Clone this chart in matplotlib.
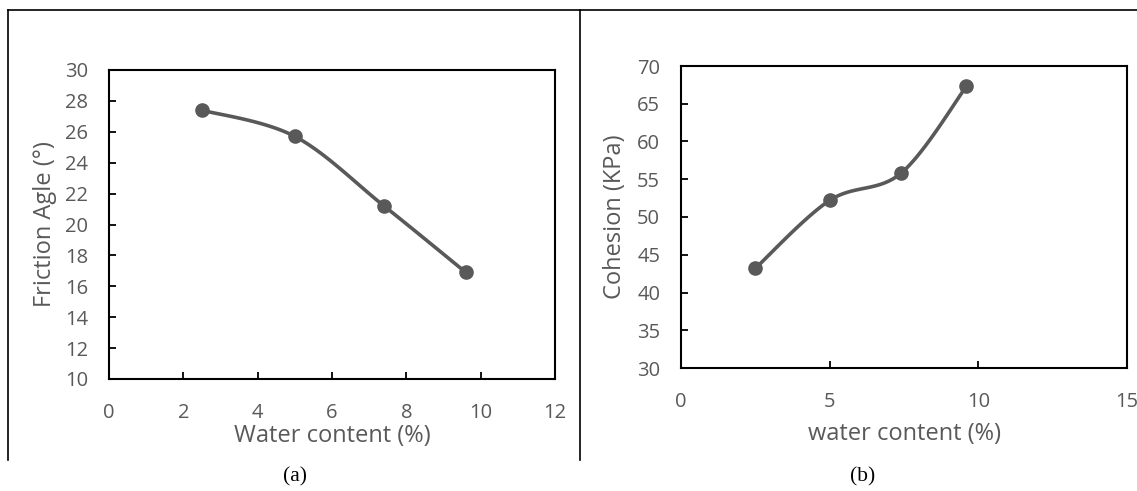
import numpy as np
import matplotlib
matplotlib.use("Agg")
import matplotlib.pyplot as plt
from matplotlib.lines import Line2D

# values
water = [2.5, 5.0, 7.4, 9.6]
friction = [27.4, 25.7, 21.2, 16.9]
cohesion = [43.2, 52.2, 55.8, 67.3]

grey = "#595959"
W, H = 1137, 491


def smooth(xs, ys, n=40):
    # Excel-like smoothed line: Catmull-Rom Bezier through the points
    p = np.column_stack([xs, ys]).astype(float)
    p = np.vstack([p[0], p, p[-1]])
    out = []
    for i in range(1, len(p) - 2):
        p0, p1, p2, p3 = p[i - 1], p[i], p[i + 1], p[i + 2]
        c1 = p1 + (p2 - p0) / 6
        c2 = p2 - (p3 - p1) / 6
        t = np.linspace(0, 1, n)[:, None]
        seg = ((1 - t) ** 3) * p1 + 3 * ((1 - t) ** 2) * t * c1 + 3 * (1 - t) * t ** 2 * c2 + t ** 3 * p2
        out.append(seg)
    out = np.vstack(out)
    return out[:, 0], out[:, 1]


plt.rcParams["font.family"] = ["Open Sans", "DejaVu Sans"]

fig = plt.figure(figsize=(W / 100, H / 100), dpi=100)


def box(l, t, r, b):
    return [l / W, (H - b) / H, (r - l) / W, (b - t) / H]


def panel(rect, y, xlim, xticks, ylim, yticks, xlabel, ylabel, xl_pos, yl_pos, xpad):
    ax = fig.add_axes(rect)
    sx, sy = smooth(water, y)
    ax.plot(sx, sy, color=grey, lw=2.6, solid_capstyle="round", clip_on=False)
    ax.plot(water, y, "o", color=grey, ms=9.5, clip_on=False)
    ax.set_xlim(*xlim)
    ax.set_ylim(*ylim)
    ax.set_xticks(xticks)
    ax.set_yticks(yticks)
    ax.tick_params(direction="in", length=5, width=1.3, color="black",
                   labelcolor=grey, labelsize=14.5)
    ax.tick_params(axis="x", pad=xpad)
    ax.tick_params(axis="y", pad=15)
    for s in ax.spines.values():
        s.set_linewidth(1.5)
        s.set_color("black")
    ax.set_xlabel(xlabel, fontsize=17, color=grey)
    ax.set_ylabel(ylabel, fontsize=17, color=grey)
    ax.xaxis.set_label_coords(*xl_pos)
    ax.yaxis.set_label_coords(*yl_pos)
    return ax


panel(box(109, 70, 555, 379), friction, (0, 12), range(0, 13, 2), (10, 30),
      range(10, 31, 2), "Water content (%)", "Friction Agle (°)",
      (0.5, -0.147), (-0.117, 0.5), 17)
panel(box(681, 66, 1127, 368), cohesion, (0, 15), range(0, 16, 5), (30, 70),
      range(30, 71, 5), "water content (%)", "Cohesion (KPa)",
      (0.5, -0.18), (-0.12, 0.5), 17)

# table frame around the two panels
def fline(x0, y0, x1, y1):
    fig.add_artist(Line2D([x0 / W, x1 / W], [(H - y0) / H, (H - y1) / H],
                          color="black", lw=1.2))

fline(8, 10, W, 10)
fline(8, 10, 8, 460)
fline(580, 10, 580, 460)

fig.text(295 / W, (H - 477) / H, "(a)", family="Liberation Serif", fontsize=15.5,
         ha="center", va="center")
fig.text(863 / W, (H - 477) / H, "(b)", family="Liberation Serif", fontsize=15.5,
         ha="center", va="center")

fig.savefig("out.png", dpi=100)
